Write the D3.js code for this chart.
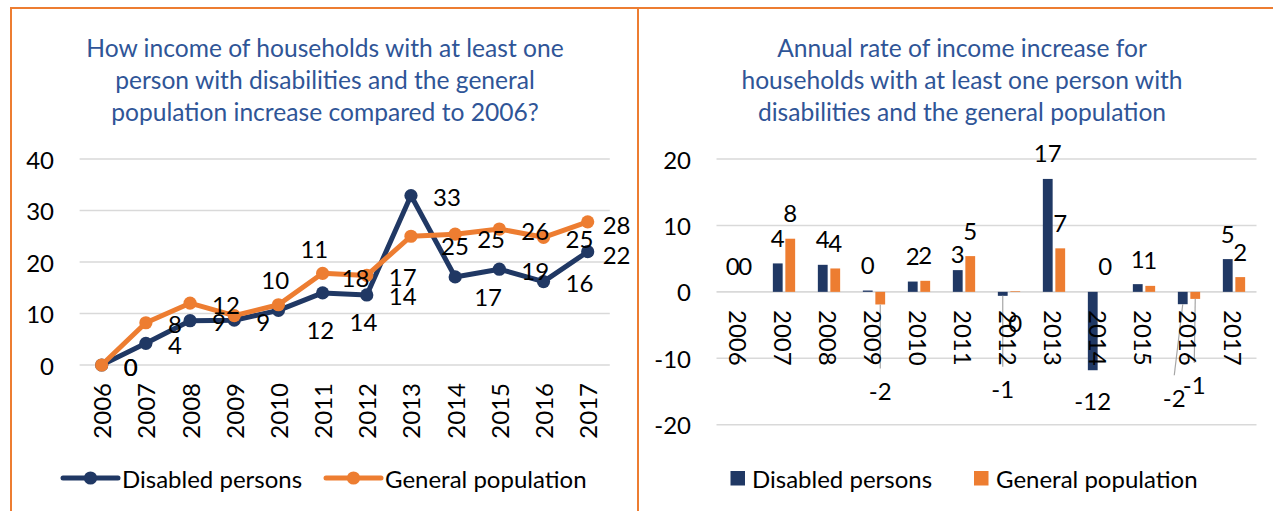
<!DOCTYPE html>
<html>
<head>
<meta charset="utf-8">
<script src="https://cdn.jsdelivr.net/npm/d3@7"></script>
<style>
  html, body { margin: 0; padding: 0; background: #fff; }
  svg { display: block; font-family: Lato, "Open Sans", sans-serif; }
</style>
</head>
<body>
<svg id="fig" width="1273" height="511"></svg>
<script>
// ---- data ----
const years = ["2006","2007","2008","2009","2010","2011","2012","2013","2014","2015","2016","2017"];
const seriesNames = ["Disabled persons", "General population"];

// cumulative increase compared to 2006, %
const cumulativeDisabled = [0, 4.2, 8.6, 8.7, 10.6, 14.0, 13.6, 32.9, 17.1, 18.6, 16.2, 22.0];
const cumulativeGeneral  = [0, 8.2, 12.0, 9.6, 11.7, 17.8, 17.4, 25.0, 25.4, 26.4, 24.8, 27.8];

// annual rate of increase, %
const annualDisabled = [0, 4.28, 4.07, 0.2, 1.55, 3.27, -0.6, 17.0, -11.8, 1.16, -1.86, 4.93];
const annualGeneral  = [0, 8.0, 3.52, -1.9, 1.66, 5.38, 0.1, 6.55, 0, 0.9, -1.06, 2.22];

const leftTicks  = [0, 10, 20, 30, 40];
const rightTicks = [-20, -10, 0, 10, 20];

const leftTitle  = ["How income of households with at least one",
                    "person with disabilities and the general",
                    "population increase compared to 2006?"];
const rightTitle = ["Annual rate of income increase for",
                    "households with at least one person with",
                    "disabilities and the general population"];

// ---- styling ----
const NAVY = "#203864", ORANGE = "#ED7D31", GRID = "#d9d9d9", TITLE = "#2F5597";
const colors = [NAVY, ORANGE];
const FS = 24, TFS = 24.6;
const fmt = v => { const r = Math.round(v); return r === 0 ? "0" : String(r); };

// hand-placed data labels (series index : year) -> offsets from default spot
const lineLabelMoves = {
  "1:2009": [5, -37], "0:2010": [0, -63], "1:2010": [6, 24],
  "0:2011": [5, 28], "1:2011": [-3, 3], "1:2013": [8, 8],
  "0:2014": [-3, 19], "1:2014": [0, 3], "0:2017": [-7, 2], "1:2017": [-7, 2]
};
const barLabelMoves = {
  "1:2009": [0, 56, true], "0:2011": [0, 9, false], "0:2012": [0, 63, true],
  "1:2012": [0, 57, false], "0:2016": [-8.5, 63, true], "1:2016": [-1, 56, true]
};

const svg = d3.select("#fig");

// ---- frame ----
const frame = svg.append("g").attr("stroke", ORANGE).attr("stroke-width", 2).attr("fill", "none");
frame.append("line").attr("x1", 10).attr("x2", 1273).attr("y1", 8).attr("y2", 8);
frame.append("line").attr("x1", 11).attr("x2", 11).attr("y1", 8).attr("y2", 511);
frame.append("line").attr("x1", 638).attr("x2", 638).attr("y1", 8).attr("y2", 511);

function drawTitle(lines, cx) {
  svg.append("g").selectAll("text").data(lines).join("text")
    .attr("x", cx).attr("y", (d, i) => 47 + i * 32)
    .attr("text-anchor", "middle").attr("dominant-baseline", "central")
    .attr("fill", TITLE).attr("font-size", TFS).text(d => d);
}

// ================= left: cumulative line chart =================
{
  const x = d3.scalePoint().domain(years).range([101.7, 587.7]);
  const y = d3.scaleLinear().domain([0, 40]).range([365, 159]);
  const half = x.step() / 2;

  drawTitle(leftTitle, 325);

  const g = svg.append("g");
  g.append("g").selectAll("line").data(leftTicks).join("line")
    .attr("x1", x(years[0]) - half).attr("x2", x(years[years.length - 1]) + half)
    .attr("y1", d => y(d)).attr("y2", d => y(d))
    .attr("stroke", GRID).attr("stroke-width", 1.6);

  g.append("g").selectAll("text").data(leftTicks).join("text")
    .attr("x", 54).attr("y", d => y(d)).attr("text-anchor", "end")
    .attr("dominant-baseline", "central").attr("font-size", FS).attr("fill", "#000")
    .text(d => d);

  g.append("g").selectAll("text").data(years).join("text")
    .attr("transform", d => `translate(${x(d)},383) rotate(-90)`)
    .attr("text-anchor", "end").attr("dominant-baseline", "central")
    .attr("font-size", FS).attr("fill", "#000").text(d => d);

  const series = [cumulativeDisabled, cumulativeGeneral];
  const line = d3.line().x((d, i) => x(years[i])).y(d => y(d));
  series.forEach((vals, s) => {
    g.append("path").datum(vals).attr("d", line).attr("fill", "none")
      .attr("stroke", colors[s]).attr("stroke-width", 5).attr("stroke-linejoin", "round");
    g.append("g").selectAll("circle").data(vals).join("circle")
      .attr("cx", (d, i) => x(years[i])).attr("cy", d => y(d)).attr("r", 6.6)
      .attr("fill", colors[s]);
  });

  series.forEach((vals, s) => {
    g.append("g").selectAll("text").data(vals).join("text")
      .each(function (d, i) {
        const mv = lineLabelMoves[`${s}:${years[i]}`] || [0, 0];
        d3.select(this)
          .attr("x", x(years[i]) + 22 + mv[0]).attr("y", y(d) + 1 + mv[1]);
      })
      .attr("dominant-baseline", "central").attr("font-size", FS).attr("fill", "#000")
      .text(d => fmt(d));
  });

  // legend
  const lg = svg.append("g");
  const items = [{x0: 63, x1: 118, tx: 122}, {x0: 326, x1: 381, tx: 385}];
  items.forEach((it, s) => {
    lg.append("line").attr("x1", it.x0).attr("x2", it.x1).attr("y1", 478).attr("y2", 478)
      .attr("stroke", colors[s]).attr("stroke-width", 5).attr("stroke-linecap", "round");
    lg.append("circle").attr("cx", (it.x0 + it.x1) / 2).attr("cy", 478).attr("r", 6.6).attr("fill", colors[s]);
    lg.append("text").attr("x", it.tx).attr("y", 478).attr("dominant-baseline", "central")
      .attr("font-size", FS).attr("fill", "#000").text(seriesNames[s]);
  });
}

// ================= right: annual bar chart =================
{
  const x0 = d3.scaleBand().domain(years).range([716.5, 1256.5]).padding(0);
  const x1 = d3.scaleBand().domain([0, 1]).range([11.35, 33.65]).paddingInner(0.216);
  const y = d3.scaleLinear().domain([-20, 20]).range([424.7, 159]);

  drawTitle(rightTitle, 962);

  const g = svg.append("g");
  g.append("g").selectAll("line").data(rightTicks).join("line")
    .attr("x1", x0.range()[0]).attr("x2", x0.range()[1])
    .attr("y1", d => y(d)).attr("y2", d => y(d))
    .attr("stroke", GRID).attr("stroke-width", 1.6);

  g.append("g").selectAll("text").data(rightTicks).join("text")
    .attr("x", 691).attr("y", d => y(d)).attr("text-anchor", "end")
    .attr("dominant-baseline", "central").attr("font-size", FS).attr("fill", "#000")
    .text(d => d);

  const series = [annualDisabled, annualGeneral];
  const cx = (s, i) => x0(years[i]) + x1(s) + x1.bandwidth() / 2;

  series.forEach((vals, s) => {
    g.append("g").selectAll("rect").data(vals).join("rect")
      .attr("x", (d, i) => x0(years[i]) + x1(s)).attr("width", x1.bandwidth())
      .attr("y", d => y(Math.max(0, d))).attr("height", d => Math.abs(y(d) - y(0)))
      .attr("fill", colors[s]);
  });

  // leader lines for moved labels
  series.forEach((vals, s) => {
    vals.forEach((d, i) => {
      const mv = barLabelMoves[`${s}:${years[i]}`];
      if (!mv || !mv[2]) return;
      const baseY = d >= 0 ? y(d) - 26 : y(d) + 30;
      g.append("line")
        .attr("x1", cx(s, i)).attr("y1", y(d) + (d < 0 ? 0 : -1))
        .attr("x2", cx(s, i) + mv[0]).attr("y2", baseY + mv[1] - 22)
        .attr("stroke", "#a6a6a6").attr("stroke-width", 1.2);
    });
  });

  g.append("g").selectAll("text").data(years).join("text")
    .attr("transform", d => `translate(${x0(d) + x0.bandwidth() / 2 - 1},310) rotate(90)`)
    .attr("text-anchor", "start").attr("dominant-baseline", "central")
    .attr("font-size", FS).attr("fill", "#000").text(d => d);

  series.forEach((vals, s) => {
    g.append("g").selectAll("text").data(vals).join("text")
      .each(function (d, i) {
        const mv = barLabelMoves[`${s}:${years[i]}`] || [0, 0];
        const baseY = d >= 0 ? y(d) - 26 : y(d) + 30;
        d3.select(this).attr("x", cx(s, i) + mv[0]).attr("y", baseY + mv[1]);
      })
      .attr("text-anchor", "middle").attr("dominant-baseline", "central")
      .attr("font-size", FS).attr("fill", "#000").text(d => fmt(d));
  });

  // legend
  const lg = svg.append("g");
  const items = [{sx: 730.5, tx: 752}, {sx: 974, tx: 996}];
  items.forEach((it, s) => {
    lg.append("rect").attr("x", it.sx).attr("y", 471).attr("width", 14.5).attr("height", 14.5)
      .attr("fill", colors[s]);
    lg.append("text").attr("x", it.tx).attr("y", 478).attr("dominant-baseline", "central")
      .attr("font-size", FS).attr("fill", "#000").text(seriesNames[s]);
  });
}
</script>
</body>
</html>
